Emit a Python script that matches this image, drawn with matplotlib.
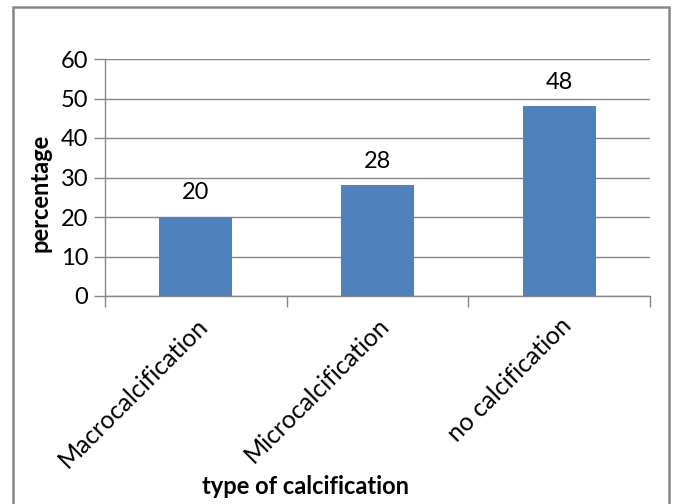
import matplotlib.pyplot as plt
from matplotlib.patches import Rectangle
from matplotlib.ticker import FixedLocator

categories = ["Macrocalcification", "Microcalcification", "no calcification"]
values = [20, 28, 48]
y_ticks = [0, 10, 20, 30, 40, 50, 60]

plt.rcParams['font.family'] = ['Lato', 'DejaVu Sans']

W, H = 677, 504
fig = plt.figure(figsize=(W / 100, H / 100), dpi=100)
ax = fig.add_axes([105 / W, 1 - 296 / H, (650 - 105) / W, (296 - 59) / H])

grey = '#868686'
bar_color = '#4F81BD'
fs = 17

x = list(range(len(categories)))
bars = ax.bar(x, values, width=0.4, color=bar_color, zorder=3)
for xi, v in zip(x, values):
    ax.text(xi, v + 3.5, f"{v}", ha='center', va='bottom', fontsize=fs, color='black')

ax.set_xlim(-0.5, len(categories) - 0.5)
ax.set_ylim(0, 60)
ax.set_yticks(y_ticks)
ax.yaxis.grid(True, color=grey, linewidth=1, zorder=0)
ax.set_axisbelow(True)

# category labels sit between boundary tick marks
ax.xaxis.set_major_locator(FixedLocator([i - 0.5 for i in range(len(categories) + 1)]))
ax.set_xticklabels([])
ax.xaxis.set_minor_locator(FixedLocator(x))
ax.set_xticklabels(categories, minor=True, rotation=45, ha='right',
                   rotation_mode='anchor', fontsize=18)
ax.tick_params(axis='x', which='minor', length=0, pad=13)
ax.tick_params(axis='x', which='major', length=8, color=grey, width=1)
ax.tick_params(axis='y', length=8, color=grey, width=1, labelsize=fs, pad=4)

for s in ['top', 'right']:
    ax.spines[s].set_visible(False)
for s in ['left', 'bottom']:
    ax.spines[s].set_color(grey)
    ax.spines[s].set_linewidth(1)

fig.text(306 / W, 1 - 487 / H, "type of calcification", ha='center', va='center',
         fontsize=fs, fontweight='bold')
fig.text(40 / W, 1 - 193 / H, "percentage", ha='center', va='center',
         rotation=90, fontsize=fs, fontweight='bold')

fig.patches.append(Rectangle((13 / W, -0.02), (669 - 13) / W, 1.02 - 7 / H,
                             transform=fig.transFigure, fill=False,
                             edgecolor=grey, linewidth=1.8))

fig.savefig('out.png', dpi=100)
